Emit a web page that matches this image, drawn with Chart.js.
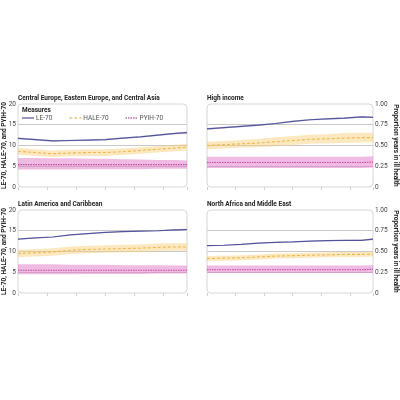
<!DOCTYPE html>
<html>
<head>
<meta charset="utf-8">
<script src="https://cdn.jsdelivr.net/npm/chart.js@4/dist/chart.umd.min.js"></script>
<style>
body { margin: 0; background: #fff; }
#wrap { position: relative; width: 400px; height: 400px; }
canvas { position: absolute; }
</style>
</head>
<body>
<div id="wrap">
<canvas id="c1" style="left:0;top:88px"></canvas>
<canvas id="c2" style="left:200px;top:88px"></canvas>
<canvas id="c3" style="left:0;top:194px"></canvas>
<canvas id="c4" style="left:200px;top:194px"></canvas>
</div>
<script>
var years = [1990, 1993, 1996, 1999, 2002, 2005, 2008, 2011, 2014, 2017, 2019];
var leftTicks = ['0', '5', '10', '15', '20'];
var rightTicks = ['0', '0.25', '0.50', '0.75', '1.00'];

// Central Europe, Eastern Europe, and Central Asia
var ceLE   = [11.7, 11.4, 11.1, 11.2, 11.3, 11.4, 11.8, 12.1, 12.5, 12.9, 13.1];
var ceLElo = [11.5, 11.2, 10.9, 11.0, 11.1, 11.2, 11.6, 11.9, 12.3, 12.7, 12.8];
var ceLEhi = [11.9, 11.6, 11.3, 11.4, 11.5, 11.6, 12.0, 12.3, 12.7, 13.1, 13.4];
var ceHALE   = [8.6, 8.3, 8.0, 8.2, 8.3, 8.3, 8.5, 8.8, 9.1, 9.4, 9.6];
var ceHALElo = [7.8, 7.5, 7.2, 7.4, 7.5, 7.5, 7.7, 8.0, 8.3, 8.6, 8.8];
var ceHALEhi = [9.4, 9.1, 8.8, 9.0, 9.1, 9.1, 9.3, 9.6, 9.9, 10.2, 10.4];
var cePYIH   = [5.4, 5.4, 5.4, 5.4, 5.4, 5.4, 5.4, 5.4, 5.4, 5.4, 5.4];
var cePYIHlo = [4.2, 4.2, 4.2, 4.2, 4.3, 4.3, 4.3, 4.3, 4.4, 4.4, 4.4];
var cePYIHhi = [7.0, 7.0, 6.9, 6.9, 6.8, 6.8, 6.7, 6.6, 6.5, 6.5, 6.4];

// High income
var hiLE   = [14.0, 14.3, 14.6, 14.9, 15.3, 15.8, 16.2, 16.4, 16.6, 16.9, 16.8];
var hiLElo = [13.8, 14.1, 14.4, 14.7, 15.1, 15.6, 16.0, 16.2, 16.4, 16.7, 16.6];
var hiLEhi = [14.2, 14.5, 14.8, 15.1, 15.5, 16.0, 16.4, 16.6, 16.8, 17.1, 17.0];
var hiHALE   = [10.0, 10.2, 10.4, 10.6, 10.9, 11.2, 11.5, 11.6, 11.8, 11.9, 11.9];
var hiHALElo = [9.1, 9.3, 9.5, 9.6, 9.8, 10.1, 10.4, 10.5, 10.6, 10.7, 10.7];
var hiHALEhi = [10.9, 11.1, 11.3, 11.6, 12.0, 12.3, 12.6, 12.7, 13.0, 13.1, 13.1];
var hiPYIH   = [5.9, 5.9, 5.9, 5.9, 5.9, 5.9, 5.9, 5.9, 5.9, 5.9, 6.0];
var hiPYIHlo = [4.6, 4.6, 4.6, 4.6, 4.6, 4.6, 4.6, 4.6, 4.6, 4.6, 4.7];
var hiPYIHhi = [7.3, 7.3, 7.3, 7.3, 7.3, 7.3, 7.3, 7.3, 7.3, 7.3, 7.4];

// Latin America and Caribbean
var laLE   = [13.0, 13.3, 13.5, 14.0, 14.3, 14.6, 14.8, 14.9, 15.0, 15.2, 15.3];
var laLElo = [12.9, 13.2, 13.4, 13.9, 14.2, 14.5, 14.7, 14.8, 14.9, 15.0, 15.1];
var laLEhi = [13.1, 13.4, 13.6, 14.1, 14.4, 14.7, 14.9, 15.0, 15.1, 15.4, 15.5];
var laHALE   = [9.5, 9.7, 9.9, 10.3, 10.5, 10.6, 10.7, 10.8, 11.0, 11.1, 11.1];
var laHALElo = [8.6, 8.8, 9.0, 9.4, 9.6, 9.7, 9.8, 9.9, 10.1, 10.2, 10.2];
var laHALEhi = [10.4, 10.6, 10.8, 11.2, 11.4, 11.5, 11.6, 11.7, 11.9, 12.0, 12.0];
var laPYIH   = [5.5, 5.5, 5.5, 5.5, 5.5, 5.5, 5.5, 5.5, 5.5, 5.5, 5.5];
var laPYIHlo = [4.5, 4.5, 4.5, 4.5, 4.6, 4.6, 4.6, 4.6, 4.7, 4.7, 4.7];
var laPYIHhi = [6.9, 6.9, 6.9, 6.8, 6.8, 6.8, 6.7, 6.7, 6.7, 6.6, 6.6];

// North Africa and Middle East
var naLE   = [11.4, 11.5, 11.7, 12.0, 12.2, 12.3, 12.5, 12.6, 12.7, 12.7, 13.0];
var naLElo = [11.3, 11.4, 11.6, 11.9, 12.1, 12.2, 12.4, 12.5, 12.6, 12.6, 12.7];
var naLEhi = [11.5, 11.6, 11.8, 12.1, 12.3, 12.4, 12.6, 12.7, 12.8, 12.9, 13.2];
var naHALE   = [8.3, 8.4, 8.5, 8.7, 8.9, 9.0, 9.1, 9.2, 9.3, 9.3, 9.4];
var naHALElo = [7.7, 7.8, 7.9, 8.1, 8.3, 8.4, 8.5, 8.6, 8.7, 8.7, 8.8];
var naHALEhi = [8.9, 9.0, 9.1, 9.3, 9.5, 9.6, 9.7, 9.8, 9.9, 9.9, 10.0];
var naPYIH   = [5.6, 5.6, 5.6, 5.6, 5.6, 5.6, 5.6, 5.6, 5.6, 5.6, 5.7];
var naPYIHlo = [4.8, 4.8, 4.8, 4.8, 4.8, 4.8, 4.8, 4.8, 4.8, 4.8, 4.8];
var naPYIHhi = [6.6, 6.6, 6.6, 6.6, 6.6, 6.6, 6.6, 6.6, 6.6, 6.6, 6.7];

var FONT = "Roboto, sans-serif";
Chart.defaults.font.family = FONT;
Chart.defaults.font.size = 6.5;
Chart.defaults.color = '#333';

var LE_COL = '#55539a', HALE_COL = '#e2a63a', PYIH_COL = '#a2187c';

function pts(arr) {
  return arr.map(function (v, i) { return { x: years[i], y: v }; });
}

function band(lo, hi, color) {
  return [
    { data: pts(lo), borderWidth: 0, pointRadius: 0, fill: false, isBand: true },
    { data: pts(hi), borderWidth: 0, pointRadius: 0, fill: '-1', backgroundColor: color, isBand: true }
  ];
}

// rounded grey box round each plot area
var frame = {
  id: 'frame',
  beforeDatasetsDraw: function (chart) {
    var a = chart.chartArea, ctx = chart.ctx;
    ctx.save();
    ctx.strokeStyle = '#d6d6d6';
    ctx.lineWidth = 1;
    ctx.beginPath();
    ctx.roundRect(a.left, a.top, a.right - a.left, a.bottom - a.top, 4);
    ctx.stroke();
    ctx.restore();
  }
};

// "Measures" legend drawn inside the first panel, in a single row
var innerLegend = {
  id: 'innerLegend',
  afterDatasetsDraw: function (chart, args, opts) {
    if (!opts.show) return;
    var ctx = chart.ctx, a = chart.chartArea;
    var x = a.left + 4, y = a.top + 6;
    ctx.save();
    ctx.textBaseline = 'middle';
    ctx.fillStyle = '#222';
    ctx.font = 'bold 6.5px ' + FONT;
    ctx.fillText('Measures', x, y);
    y += 8;
    ctx.font = '6.5px ' + FONT;
    chart.data.datasets.forEach(function (d) {
      if (d.isBand) return;
      ctx.strokeStyle = d.borderColor;
      ctx.lineWidth = 1.2;
      ctx.setLineDash(d.borderDash || []);
      ctx.beginPath();
      ctx.moveTo(x, y);
      ctx.lineTo(x + 12, y);
      ctx.stroke();
      ctx.setLineDash([]);
      ctx.fillStyle = '#555';
      ctx.fillText(d.label, x + 14, y);
      x += 14 + ctx.measureText(d.label).width + 17;
    });
    ctx.restore();
  }
};

function panel(id, title, s, side, legend) {
  var datasets = []
    .concat(band(s.leLo, s.leHi, 'rgba(85,83,154,0.25)'))
    .concat(band(s.haleLo, s.haleHi, 'rgba(248,204,110,0.45)'))
    .concat(band(s.pyihLo, s.pyihHi, 'rgba(226,120,200,0.5)'))
    .concat([
      { label: 'LE-70', data: pts(s.le), borderColor: LE_COL, borderWidth: 1.2, pointRadius: 0, fill: false },
      { label: 'HALE-70', data: pts(s.hale), borderColor: HALE_COL, borderWidth: 1.1, borderDash: [3, 2], pointRadius: 0, fill: false },
      { label: 'PYIH-70', data: pts(s.pyih), borderColor: PYIH_COL, borderWidth: 1.1, borderDash: [1.5, 1], pointRadius: 0, fill: false }
    ]);
  var left = side === 'left';
  new Chart(document.getElementById(id), {
    type: 'line',
    data: { datasets: datasets },
    plugins: [frame, innerLegend],
    options: {
      responsive: false,
      animation: false,
      layout: { padding: { left: left ? 0 : 7, right: left ? 13 : 0, top: 0, bottom: 3 } },
      plugins: {
        title: {
          display: true, text: title, align: 'start', fullSize: false,
          font: { size: 6.5, weight: 'bold' }, color: '#222',
          padding: { top: 6, bottom: 2.2 }
        },
        legend: { display: false },
        innerLegend: { show: legend },
        tooltip: { enabled: false }
      },
      scales: {
        x: {
          type: 'linear', min: 1990, max: 2019,
          ticks: { display: false, stepSize: 5 },
          grid: { drawOnChartArea: false, tickLength: 3, color: '#cfcfcf' },
          border: { display: false },
          afterFit: function (ax) { ax.height = 4; }
        },
        y: {
          position: side, min: 0, max: 20,
          ticks: {
            stepSize: 5, padding: 2, color: '#444', font: { size: 6.5 },
            callback: function (v) { return (left ? leftTicks : rightTicks)[v / 5]; }
          },
          grid: {
            drawTicks: false,
            color: function (c) { return (c.tick.value === 0 || c.tick.value === 20) ? 'rgba(0,0,0,0)' : '#c9c9c9'; }
          },
          border: { display: false },
          title: {
            display: true,
            text: left ? 'LE-70, HALE-70, and PYIH-70' : 'Proportion years in ill health',
            font: { size: 6.5, weight: 'bold' }, color: '#222', padding: 0
          },
          afterFit: function (ax) { ax.width = left ? 18 : 27; }
        }
      }
    }
  });
}

function series(le, leLo, leHi, hale, haleLo, haleHi, pyih, pyihLo, pyihHi) {
  return { le: le, leLo: leLo, leHi: leHi, hale: hale, haleLo: haleLo, haleHi: haleHi, pyih: pyih, pyihLo: pyihLo, pyihHi: pyihHi };
}

['c1', 'c2', 'c3', 'c4'].forEach(function (id) {
  var c = document.getElementById(id);
  c.width = 200; c.height = 106;
  c.style.width = '200px'; c.style.height = '106px';
});

panel('c1', 'Central Europe, Eastern Europe, and Central Asia',
  series(ceLE, ceLElo, ceLEhi, ceHALE, ceHALElo, ceHALEhi, cePYIH, cePYIHlo, cePYIHhi), 'left', true);
panel('c2', 'High income',
  series(hiLE, hiLElo, hiLEhi, hiHALE, hiHALElo, hiHALEhi, hiPYIH, hiPYIHlo, hiPYIHhi), 'right', false);
panel('c3', 'Latin America and Caribbean',
  series(laLE, laLElo, laLEhi, laHALE, laHALElo, laHALEhi, laPYIH, laPYIHlo, laPYIHhi), 'left', false);
panel('c4', 'North Africa and Middle East',
  series(naLE, naLElo, naLEhi, naHALE, naHALElo, naHALEhi, naPYIH, naPYIHlo, naPYIHhi), 'right', false);
</script>
</body>
</html>
